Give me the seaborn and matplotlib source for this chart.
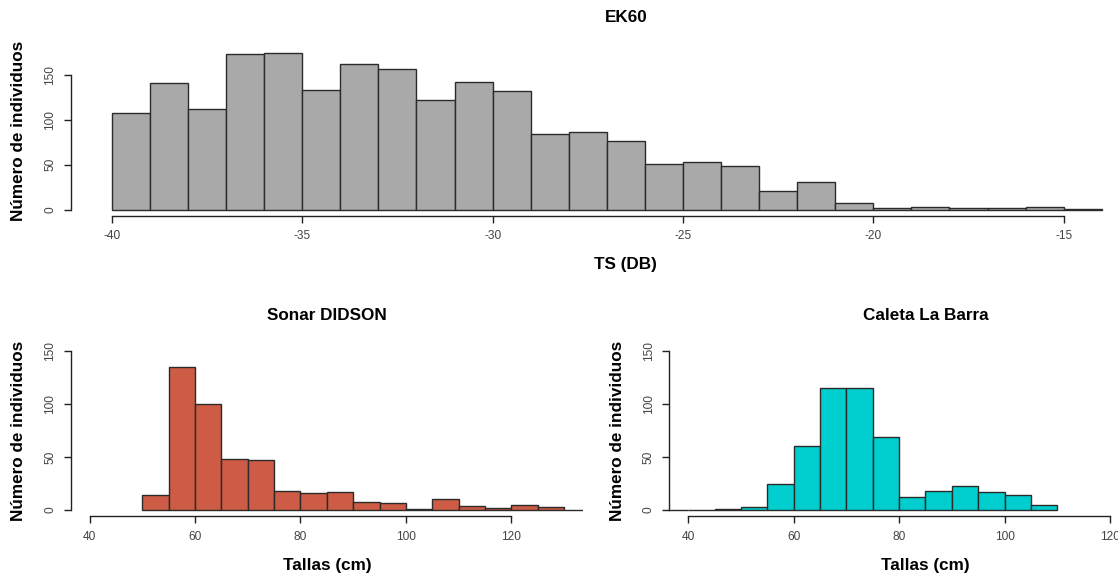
import matplotlib
matplotlib.use("Agg")
import matplotlib.pyplot as plt
import seaborn as sns
import numpy as np
import pandas as pd

# EK60: TS (dB), bins of 1 dB starting at -40
ts_edges = list(range(-40, -13))
ts_counts = [108, 141, 112, 174, 175, 133, 163, 157, 122, 143, 132, 84, 87,
             76, 51, 53, 49, 21, 31, 7, 2, 3, 2, 2, 3, 1]

# Sonar DIDSON: tallas (cm), bins of 5 cm
didson_edges = [50, 55, 60, 65, 70, 75, 80, 85, 90, 95, 100, 105, 110, 115, 120, 125, 130, 135]
didson_counts = [14, 135, 100, 48, 47, 18, 16, 17, 8, 7, 1, 10, 4, 2, 5, 3, 0]

# Caleta La Barra: tallas (cm), bins of 5 cm
barra_edges = [35, 40, 45, 50, 55, 60, 65, 70, 75, 80, 85, 90, 95, 100, 105, 110]
barra_counts = [0, 0, 1, 3, 25, 60, 115, 115, 69, 12, 18, 23, 17, 14, 5]

sns.set_style("white")
plt.rcParams["font.family"] = ["Liberation Sans", "DejaVu Sans"]
plt.rcParams["axes.unicode_minus"] = False

W, H = 1118, 575
fig = plt.figure(figsize=(W / 100, H / 100), dpi=100)

LINE = "#222222"
TICKC = "#444444"


def px_rect(left, top, right, bottom):
    return [left / W, 1 - bottom / H, (right - left) / W, (bottom - top) / H]


def draw_panel(rect, edges, counts, color, xlim, ylim, xticks, title, xlabel):
    ax = fig.add_axes(rect)
    mids = [(a + b) / 2 for a, b in zip(edges[:-1], edges[1:])]
    df = pd.DataFrame({"valor": mids, "n": counts})
    sns.histplot(data=df, x="valor", weights="n", bins=list(edges), color=color,
                 edgecolor="#2b2b2b", linewidth=1.0, alpha=1, ax=ax)
    ax.set_xlim(*xlim)
    ax.set_ylim(*ylim)
    ax.set_xticks(xticks)
    ax.set_xticklabels([str(t) for t in xticks])
    ax.set_yticks([0, 50, 100, 150])
    ax.set_yticklabels(["0", "50", "100", "150"])
    ax.set_xlabel("")
    ax.set_ylabel("")
    sns.despine(ax=ax)
    ax.spines["left"].set_bounds(0, 150)
    ax.spines["bottom"].set_bounds(xticks[0], xticks[-1])
    for s in ("left", "bottom"):
        ax.spines[s].set_color(LINE)
        ax.spines[s].set_linewidth(1.0)
    ax.tick_params(axis="both", direction="out", length=5, width=1.0,
                   color=LINE, labelsize=8.6, labelcolor=TICKC, pad=5.5,
                   left=True, bottom=True)
    ax.tick_params(axis="y", labelrotation=90)
    for lbl in ax.get_yticklabels():
        lbl.set_va("center")
    bold = dict(fontsize=12.3, fontweight="bold", color="black")
    ax.annotate(title, xy=(0.5, 1), xycoords="axes fraction", xytext=(0, 29),
                textcoords="offset pixels", ha="center", va="center", **bold)
    ax.annotate(xlabel, xy=(0.5, 0), xycoords="axes fraction", xytext=(0, -49),
                textcoords="offset pixels", ha="center", va="center", **bold)
    ax.annotate("Número de individuos", xy=(0, 0.5), xycoords="axes fraction",
                xytext=(-52, 0), textcoords="offset pixels", ha="center",
                va="center", rotation=90, **bold)
    return ax


draw_panel(px_rect(70.7, 46.6, 1181, 215.8), ts_edges, ts_counts, "#A9A9A9",
           (-41.08, -11.92), (-7, 182), [-40, -35, -30, -25, -20, -15],
           "EK60", "TS (DB)")

draw_panel(px_rect(70.7, 344.6, 583, 516.4), didson_edges, didson_counts, "#CD5B45",
           (36.4, 133.6), (-6, 156), [40, 60, 80, 100, 120],
           "Sonar DIDSON", "Tallas (cm)")

draw_panel(px_rect(669.3, 344.6, 1181.6, 516.4), barra_edges, barra_counts, "#00CDCD",
           (36.4, 133.6), (-6, 156), [40, 60, 80, 100, 120],
           "Caleta La Barra", "Tallas (cm)")

fig.savefig("out.png", dpi=100)
